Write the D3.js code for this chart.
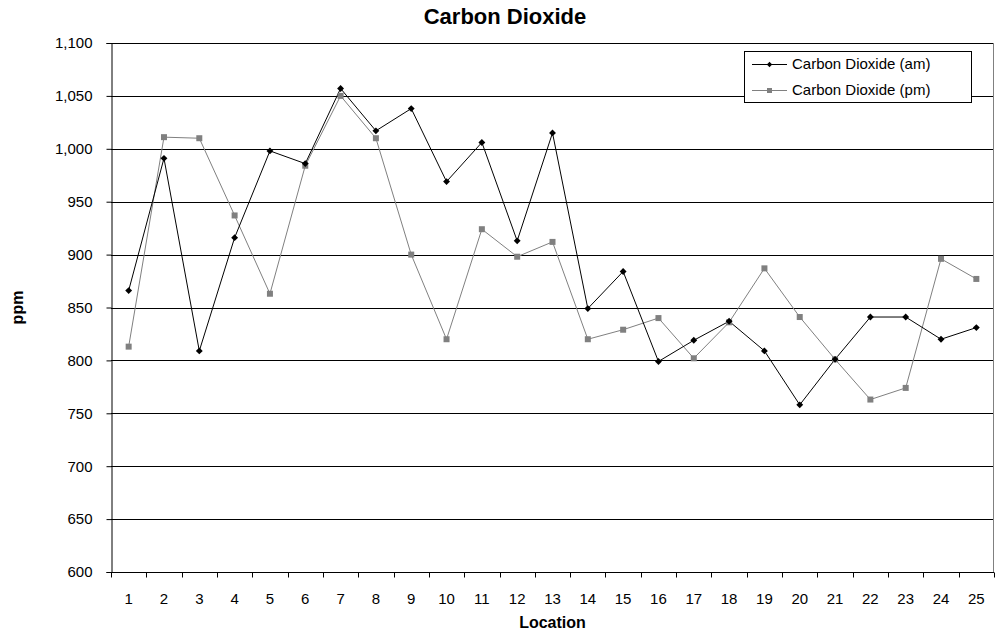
<!DOCTYPE html>
<html>
<head>
<meta charset="utf-8">
<script src="https://cdn.jsdelivr.net/npm/d3@7"></script>
<style>
  body { margin: 0; background: #fff; }
  text { font-family: "Liberation Sans", Arial, sans-serif; }
</style>
</head>
<body>
<div id="chart"></div>
<script>
// values
const locations = ["1","2","3","4","5","6","7","8","9","10","11","12","13","14","15","16","17","18","19","20","21","22","23","24","25"];
const amValues = [866, 991, 809, 916, 998, 986, 1057, 1017, 1038, 969, 1006, 913, 1015, 849, 884, 799, 819, 837, 809, 758, 801, 841, 841, 820, 831];
const pmValues = [813, 1011, 1010, 937, 863, 984, 1050, 1010, 900, 820, 924, 898, 912, 820, 829, 840, 802, 836, 887, 841, 801, 763, 774, 896, 877];
const yTicks = [600, 650, 700, 750, 800, 850, 900, 950, 1000, 1050, 1100];
const seriesNames = ["Carbon Dioxide (am)", "Carbon Dioxide (pm)"];

const width = 995, height = 636;
const margin = {top: 43, right: 1, bottom: 64, left: 111};

const svg = d3.select("#chart").append("svg")
    .attr("width", width)
    .attr("height", height);

const x = d3.scaleBand()
    .domain(locations)
    .range([margin.left, width - margin.right]);

const y = d3.scaleLinear()
    .domain([600, 1100])
    .range([height - margin.bottom, margin.top]);

// grid lines
svg.append("g")
    .selectAll("line")
    .data(yTicks.slice(1))
    .enter()
    .append("line")
    .attr("x1", margin.left)
    .attr("x2", width - margin.right)
    .attr("y1", d => Math.round(y(d)) + 0.5)
    .attr("y2", d => Math.round(y(d)) + 0.5)
    .attr("stroke", "#000")
    .attr("stroke-width", 1);

// plot border on the right
svg.append("line")
    .attr("x1", width - margin.right - 0.5)
    .attr("x2", width - margin.right - 0.5)
    .attr("y1", margin.top)
    .attr("y2", height - margin.bottom)
    .attr("stroke", "#808080");

// y axis
const yAxis = svg.append("g")
    .attr("transform", "translate(" + (margin.left + 0.5) + ",0)")
    .call(d3.axisLeft(y).tickValues(yTicks).tickSize(5).tickPadding(14).tickFormat(d3.format(",")));
yAxis.select(".domain").attr("stroke", "#000");
yAxis.selectAll(".tick line").attr("stroke", "#000");
yAxis.selectAll("text").attr("font-size", 15).attr("fill", "#000")
    .style("font-family", "'Liberation Sans', Arial, sans-serif");

// x axis, ticks between categories
const xAxisY = Math.round(y(600)) + 0.5;
svg.append("line")
    .attr("x1", margin.left)
    .attr("x2", width - margin.right)
    .attr("y1", xAxisY)
    .attr("y2", xAxisY)
    .attr("stroke", "#000");

const bounds = locations.map(d => x(d)).concat([x(locations[locations.length - 1]) + x.bandwidth()]);
svg.append("g")
    .selectAll("line")
    .data(bounds)
    .enter()
    .append("line")
    .attr("x1", d => Math.round(d) + 0.5)
    .attr("x2", d => Math.round(d) + 0.5)
    .attr("y1", xAxisY)
    .attr("y2", xAxisY + 5)
    .attr("stroke", "#000");

svg.append("g")
    .selectAll("text")
    .data(locations)
    .enter()
    .append("text")
    .attr("x", d => x(d) + x.bandwidth() / 2)
    .attr("y", xAxisY + 31)
    .attr("text-anchor", "middle")
    .attr("font-size", 15)
    .text(d => d);

// lines
const cx = (d, i) => x(locations[i]) + x.bandwidth() / 2;
const line = d3.line()
    .x(cx)
    .y(d => y(d));

svg.append("path")
    .datum(pmValues)
    .attr("fill", "none")
    .attr("stroke", "#808080")
    .attr("stroke-width", 1)
    .attr("d", line);

svg.append("path")
    .datum(amValues)
    .attr("fill", "none")
    .attr("stroke", "#000")
    .attr("stroke-width", 1)
    .attr("d", line);

// markers
svg.append("g")
    .selectAll("rect")
    .data(pmValues)
    .enter()
    .append("rect")
    .attr("x", (d, i) => cx(d, i) - 3)
    .attr("y", d => y(d) - 3)
    .attr("width", 6)
    .attr("height", 6)
    .attr("fill", "#808080");

const diamond = d3.symbol().type(d3.symbolDiamond2).size(30);
svg.append("g")
    .selectAll("path")
    .data(amValues)
    .enter()
    .append("path")
    .attr("transform", (d, i) => "translate(" + cx(d, i) + "," + y(d) + ")")
    .attr("d", diamond)
    .attr("fill", "#000");

// legend
const legend = svg.append("g");
legend.append("rect")
    .attr("x", 744.5)
    .attr("y", 51.5)
    .attr("width", 227)
    .attr("height", 51)
    .attr("fill", "#fff")
    .attr("stroke", "#000");

const legendRows = [
    {name: seriesNames[0], color: "#000", y: 64, mark: "diamond"},
    {name: seriesNames[1], color: "#808080", y: 90, mark: "square"}
];
legendRows.forEach(r => {
    legend.append("line")
        .attr("x1", 752).attr("x2", 787)
        .attr("y1", r.y + 0.5).attr("y2", r.y + 0.5)
        .attr("stroke", r.color);
    if (r.mark === "diamond") {
        legend.append("path")
            .attr("transform", "translate(769.5," + (r.y + 0.5) + ")")
            .attr("d", d3.symbol().type(d3.symbolDiamond2).size(18))
            .attr("fill", r.color);
    } else {
        legend.append("rect")
            .attr("x", 767).attr("y", r.y - 2)
            .attr("width", 5).attr("height", 5)
            .attr("fill", r.color);
    }
    legend.append("text")
        .attr("x", 792)
        .attr("y", r.y + 5)
        .attr("font-size", 15)
        .text(r.name);
});

// titles
svg.append("text")
    .attr("x", 505)
    .attr("y", 24)
    .attr("text-anchor", "middle")
    .attr("font-size", 22)
    .attr("font-weight", "bold")
    .text("Carbon Dioxide");

svg.append("text")
    .attr("x", (margin.left + width - margin.right) / 2)
    .attr("y", 628)
    .attr("text-anchor", "middle")
    .attr("font-size", 16)
    .attr("font-weight", "bold")
    .text("Location");

svg.append("text")
    .attr("transform", "translate(23," + (height - margin.bottom + margin.top) / 2 + ") rotate(-90)")
    .attr("text-anchor", "middle")
    .attr("font-size", 16)
    .attr("font-weight", "bold")
    .text("ppm");
</script>
</body>
</html>
